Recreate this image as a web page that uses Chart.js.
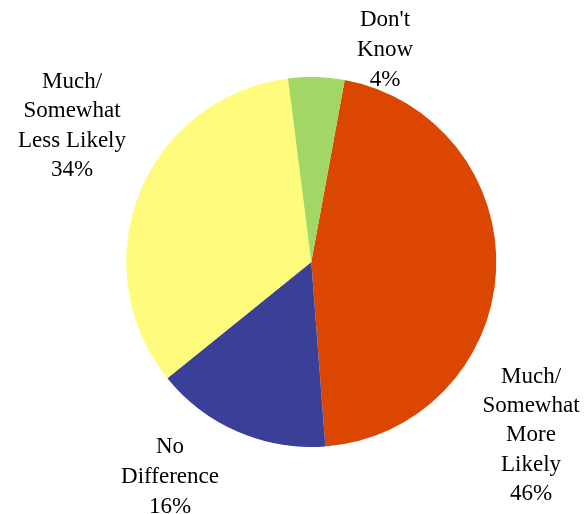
<!DOCTYPE html>
<html>
<head>
<meta charset="utf-8">
<script src="https://cdn.jsdelivr.net/npm/chart.js@4/dist/chart.umd.min.js"></script>
<style>
  html, body { margin: 0; padding: 0; background: #ffffff; }
  #wrap { width: 584px; height: 514px; position: relative; }
</style>
</head>
<body>
<div id="wrap"><canvas id="c" width="584" height="514"></canvas></div>
<script>
const categories = ["Much/ Somewhat More Likely", "No Difference", "Much/ Somewhat Less Likely", "Don't Know"];
const values = [45.9, 15.4, 33.8, 4.9];
const percentLabels = ["46%", "16%", "34%", "4%"];
const labelLines = [
  ["Much/", "Somewhat", "More", "Likely"],
  ["No", "Difference"],
  ["Much/", "Somewhat", "Less Likely"],
  ["Don't", "Know"]
];
const colors = ["#DB4700", "#3A3F97", "#FFFB7C", "#A2D665"];

// label anchor: center x, first baseline y, line height
const labelPos = [
  { x: 531, y: 383, lh: 29.2 },
  { x: 170, y: 452.6, lh: 30 },
  { x: 72, y: 88, lh: 29.3 },
  { x: 385, y: 26, lh: 30 }
];

const labelPlugin = {
  id: 'sliceLabels',
  afterDraw(chart) {
    const ctx = chart.ctx;
    ctx.save();
    ctx.font = '23px "Liberation Serif", "Times New Roman", serif';
    ctx.fillStyle = '#000000';
    ctx.textAlign = 'center';
    ctx.textBaseline = 'alphabetic';
    labelLines.forEach((lines, i) => {
      const p = labelPos[i];
      const all = lines.concat([percentLabels[i]]);
      all.forEach((t, j) => ctx.fillText(t, p.x, p.y + j * p.lh));
    });
    ctx.restore();
  }
};

new Chart(document.getElementById('c'), {
  type: 'pie',
  data: {
    labels: categories,
    datasets: [{
      data: values,
      backgroundColor: colors,
      borderWidth: 0
    }]
  },
  options: {
    responsive: false,
    animation: false,
    rotation: 10.4,
    layout: { padding: { top: 77, bottom: 67, left: 126.3, right: 87.7 } },
    plugins: {
      legend: { display: false },
      tooltip: { enabled: false }
    }
  },
  plugins: [labelPlugin]
});
</script>
</body>
</html>
